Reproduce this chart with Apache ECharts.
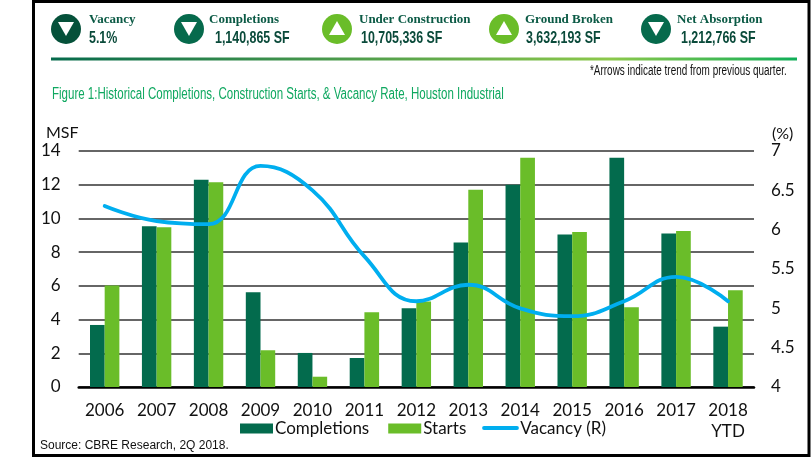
<!DOCTYPE html>
<html><head><meta charset="utf-8">
<style>html,body{margin:0;padding:0;background:#fff}#c{width:811px;height:467px}</style>
<script src="https://cdn.jsdelivr.net/npm/echarts@6/dist/echarts.min.js"></script>
</head><body><div id="c"></div>
<script>
const categories = ['2006','2007','2008','2009','2010','2011','2012','2013','2014','2015','2016','2017','2018\nYTD'];
const completions = [3.68,9.54,12.3,5.62,2.02,1.72,4.67,8.57,12.0,9.05,13.6,9.1,3.58];
const starts = [6.02,9.47,12.14,2.18,0.61,4.44,5.07,11.7,13.6,9.19,4.73,9.25,5.74];
const vacancy = [6.3,6.11,6.07,6.81,6.5,5.66,5.09,5.3,5.0,4.9,5.09,5.4,5.09];
const leftTicks = [0,2,4,6,8,10,12,14];
const rightTicks = [4,4.5,5,5.5,6,6.5,7];
const kpiNames = ['Vacancy','Completions','Under Construction','Ground Broken','Net Absorption'];
const kpiValues = ['5.1%','1,140,865 SF','10,705,336 SF','3,632,193 SF','1,212,766 SF'];
const kpiUp = [false,false,true,true,false];

const kpiX = [66,189,337,504,656];
const kpiNameX = [89,209,359,525,677];
const kpiValueX = [89,215,361,526,681];
const kpiCol = ['#05513a','#066a4c','#6abd29','#6abd29','#066a4c'];
const sans = '"Liberation Sans",sans-serif';
const g = [];
kpiNames.forEach((n,i)=>{
  const cx=kpiX[i], cy=29;
  g.push({type:'circle',shape:{cx,cy,r:15},style:{fill:kpiCol[i]}});
  const pts = kpiUp[i] ? [[cx-8,cy+6],[cx+8,cy+6],[cx,cy-8]] : [[cx-8,cy-7],[cx+8,cy-7],[cx,cy+7]];
  g.push({type:'polygon',shape:{points:pts},style:{fill:'#fff'}});
  g.push({type:'text',x:kpiNameX[i],y:20,style:{text:n,font:'bold 13px "Liberation Serif",serif',fill:'#0b5a45',textVerticalAlign:'middle'}});
  g.push({type:'text',x:kpiValueX[i],y:38,scaleX:0.73,style:{text:kpiValues[i],font:'bold 17px '+sans,fill:'#0a4a3a',textVerticalAlign:'middle'}});
});
g.push({type:'rect',shape:{x:51,y:57.5,width:746,height:3},style:{fill:new echarts.graphic.LinearGradient(0,0,1,0,[{offset:0,color:'#066a4c'},{offset:.75,color:'#8cc84b'},{offset:1,color:'#0fae58'}])}});
g.push({type:'text',x:590,y:71,scaleX:0.71,style:{text:'*Arrows indicate trend from previous quarter.',font:'14px '+sans,fill:'#111',textVerticalAlign:'middle'}});
g.push({type:'text',x:52,y:95,scaleX:0.72,style:{text:'Figure 1:Historical Completions, Construction Starts, & Vacancy Rate, Houston Industrial',font:'16px '+sans,fill:'#0fa860',textVerticalAlign:'middle'}});
g.push({type:'text',x:46,y:133,style:{text:'MSF',font:'16px Lato,sans-serif',fill:'#111',textVerticalAlign:'middle'}});
g.push({type:'text',x:772,y:134,style:{text:'(%)',font:'16px Lato,sans-serif',fill:'#111',textVerticalAlign:'middle'}});
g.push({type:'text',x:40,y:446,style:{text:'Source: CBRE Research, 2Q 2018.',font:'12px '+sans,fill:'#111',textVerticalAlign:'middle'}});
g.push({type:'line',shape:{x1:484,y1:428,x2:517,y2:428},style:{stroke:'#00aeef',lineWidth:3.8,lineCap:'round'}});
g.push({type:'rect',z:100,shape:{x:33.5,y:1.5,width:775.5,height:454},style:{fill:'none',stroke:'#000',lineWidth:3}});

const chart = echarts.init(document.getElementById('c'),null,{renderer:'canvas'});
chart.setOption({
  animation:false,
  graphic:g,
  grid:{left:78.7,right:57,top:151,bottom:80,containLabel:false},
  legend:{left:235,top:415,itemGap:19,itemWidth:33,itemHeight:10,
    textStyle:{fontFamily:'Lato,sans-serif',fontSize:17,color:'#111',padding:[0,0,0,-3]},
    data:[{name:'Completions',icon:'rect'},{name:'Starts',icon:'rect'},{name:'Vacancy (R)',icon:'none'}]},
  xAxis:{type:'category',data:categories,axisTick:{show:false},
    axisLine:{lineStyle:{color:'#000',width:2.5}},
    axisLabel:{color:'#111',fontFamily:'Lato,sans-serif',fontSize:17,margin:13,lineHeight:21}},
  yAxis:[
    {type:'value',min:0,max:14,interval:2,
     axisLabel:{color:'#111',fontFamily:'Lato,sans-serif',fontSize:17,margin:18,
       formatter:v=>leftTicks.includes(v)?String(v):''},
     axisLine:{show:false},axisTick:{show:false},
     splitLine:{lineStyle:{color:'#333',width:1.5}}},
    {type:'value',min:4,max:7,interval:0.5,position:'right',
     axisLabel:{color:'#111',fontFamily:'Lato,sans-serif',fontSize:17,margin:17,align:'left',
       formatter:v=>rightTicks.includes(v)?String(v):''},
     axisLine:{show:false},axisTick:{show:false},splitLine:{show:false}}
  ],
  series:[
    {name:'Completions',type:'bar',data:completions,barWidth:14.7,barGap:0,itemStyle:{color:'#036b4d'}},
    {name:'Starts',type:'bar',data:starts,barWidth:14.7,barGap:0,itemStyle:{color:'#6abd29'}},
    {name:'Vacancy (R)',type:'line',yAxisIndex:1,data:vacancy,smooth:0.45,showSymbol:false,symbol:'none',
     lineStyle:{color:'#00aeef',width:3.8,cap:'round'},itemStyle:{color:'#00aeef'},z:5}
  ]
});
</script></body></html>
